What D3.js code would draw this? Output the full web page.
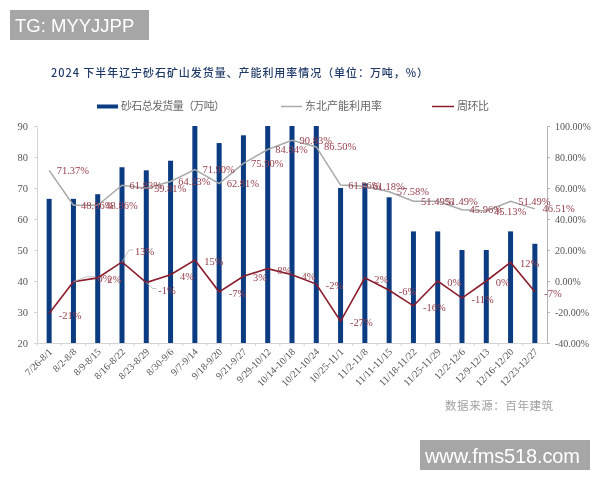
<!DOCTYPE html>
<html><head><meta charset="utf-8">
<script src="https://cdn.jsdelivr.net/npm/d3@7/dist/d3.min.js"></script>
<style>html,body{margin:0;padding:0;background:#fff}svg{display:block;filter:blur(.35px)}</style>
</head><body><svg id="c" width="600" height="480"></svg>
<script>
const categories=["7/26-8/1","8/2-8/8","8/9-8/15","8/16-8/22","8/23-8/29","8/30-9/6","9/7-9/14","9/18-9/20","9/21-9/27","9/29-10/12","10/14-10/18","10/21-10/24","10/25-11/1","11/2-11/8","11/11-11/15","11/18-11/22","11/25-11/29","12/2-12/6","12/9-12/13","12/16-12/20","12/23-12/27"];
const shipment=[66.5,66.5,68,76.7,75.7,78.8,90,84.5,87,90,90,90,70,71.5,67,56,56,50,50,56,52];
const utilization=[71.37,48.86,48.86,61.83,59.81,64.23,71.9,62.81,75.9,84.84,90.83,86.5,61.86,61.18,57.58,51.49,51.49,45.96,45.13,51.49,46.51];
const wow=[-21,0,2,13,-1,4,15,-7,3,8,4,-2,-27,2,-6,-16,0,-11,0,12,-7];
const wowDrawn=[-21,-0.5,2,12.3,-1,4,13.5,-7,3,8,4,-2,-26,2,-6,-16,0,-11,0,12,-7];
const leftTicks=[20,30,40,50,60,70,80,90];
const rightTicks=[-40,-20,0,20,40,60,80,100];
const seriesNames=["砂石总发货量（万吨）","东北产能利用率","周环比"];
const titleText="2024 下半年辽宁砂石矿山发货量、产能利用率情况（单位：万吨，%）";
const sourceText="数据来源：百年建筑";
const cjk='"Noto Sans CJK SC",sans-serif', serif='"Liberation Serif",serif', sans='"Liberation Sans",sans-serif';
const svg=d3.select("#c");
const L=37,R=547,T=126,B=343;
const x=d3.scaleBand().domain(categories).range([L,R]);
const yL=d3.scaleLinear().domain([20,90]).range([B,T]);
const yR=d3.scaleLinear().domain([-40,100]).range([B,T]);
const cx=c=>x(c)+x.bandwidth()/2;
const navy="#0b3b80",grey="#a9a9a9",red="#8a1c2c",lab="#96404c",tick="#555";

svg.append("rect").attr("x",10).attr("y",10).attr("width",139).attr("height",30).attr("fill","#a6a6a6");
svg.append("text").attr("x",15).attr("y",32).attr("font-family",sans).attr("font-size",18.5).attr("fill","#fff").text("TG: MYYJJPP");
svg.append("text").attr("x",51).attr("y",77).attr("font-family",cjk).attr("font-size",11).attr("font-weight",500).attr("fill","#1f3a68").attr("textLength",377).text(titleText);

// legend
const lg=svg.append("g").attr("font-family",cjk).attr("font-size",11).attr("fill","#666");
lg.append("rect").attr("x",97).attr("y",104.5).attr("width",21).attr("height",4).attr("fill",navy);
lg.append("text").attr("x",121).attr("y",110).attr("textLength",104).text(seriesNames[0]);
lg.append("line").attr("x1",281).attr("x2",302).attr("y1",106.5).attr("y2",106.5).attr("stroke",grey).attr("stroke-width",1.5);
lg.append("text").attr("x",305).attr("y",110).attr("textLength",77).text(seriesNames[1]);
lg.append("line").attr("x1",432).attr("x2",454).attr("y1",106.5).attr("y2",106.5).attr("stroke",red).attr("stroke-width",1.5);
lg.append("text").attr("x",457).attr("y",110).attr("textLength",32).text(seriesNames[2]);

// axes
function style(g,col){g.selectAll("path,line").attr("stroke",col).attr("stroke-width",1);
 g.selectAll("text").attr("font-family",serif).attr("font-size",10.5).attr("fill",tick);}
const gl=svg.append("g").attr("transform",`translate(${L},0)`).call(d3.axisLeft(yL).tickValues(leftTicks).tickSize(3).tickSizeOuter(0).tickPadding(6));
style(gl,"#d4d4d4");
const gr=svg.append("g").attr("transform",`translate(${R},0)`).call(d3.axisRight(yR).tickValues(rightTicks).tickFormat(d=>d.toFixed(2)+"%").tickSize(3).tickSizeOuter(0).tickPadding(5));
style(gr,"#b4b4b4");
gr.selectAll("text").attr("font-size",10);

// bars
svg.append("g").selectAll("rect").data(categories).join("rect")
 .attr("x",c=>cx(c)-2.5).attr("width",5)
 .attr("y",(c,i)=>yL(shipment[i])).attr("height",(c,i)=>B-yL(shipment[i])).attr("fill",navy);

// bottom axis: ticks on category boundaries
const gb=svg.append("g").attr("transform",`translate(0,${B})`).call(d3.axisBottom(x).tickSize(0).tickPadding(7));
gb.select("path").attr("stroke","#d4d4d4");
gb.selectAll("text").attr("font-family",serif).attr("font-size",10).attr("fill",tick)
 .attr("text-anchor","end").attr("transform","rotate(-45)").attr("dx","-4px").attr("dy","2.3px");
svg.append("g").selectAll("line").data(categories).join("line")
 .attr("x1",c=>x(c)).attr("x2",c=>x(c)).attr("y1",B).attr("y2",B+3).attr("stroke","#d4d4d4");

// lines
const lineG=d3.line().x((d,i)=>cx(categories[i])).y(d=>yR(d));
svg.append("path").attr("d",lineG(utilization)).attr("fill","none").attr("stroke",grey).attr("stroke-width",1.5);
svg.append("path").attr("d",lineG(wowDrawn)).attr("fill","none").attr("stroke",red).attr("stroke-width",1.6);

// utilization labels
svg.append("g").attr("font-family",serif).attr("font-size",10.5).attr("fill",lab).attr("text-anchor","middle")
 .selectAll("text").data(utilization).join("text")
 .attr("x",(d,i)=>cx(categories[i])+x.bandwidth()-0.5).attr("y",d=>yR(d)+3.5)
 .text(d=>d.toFixed(2)+"%");

// week-on-week labels, three of them moved off the line with leaders
const moved={1:[24,-5],3:[13,-12],4:[12,6]};
svg.append("g").attr("fill","none").attr("stroke","#b5b5b5").attr("stroke-width",.8)
 .selectAll("path").data(Object.keys(moved)).join("path")
 .attr("d",k=>{const px=cx(categories[k]),py=yR(wowDrawn[k]),m=moved[k];
   return d3.line()([[px,py],[px+m[0]*.55,py+m[1]],[px+m[0]-2,py+m[1]]]);});
svg.append("g").attr("font-family",serif).attr("font-size",10.5).attr("fill",lab)
 .selectAll("text").data(wow).join("text")
 .attr("x",(d,i)=>cx(categories[i])+(moved[i]?moved[i][0]:9.5))
 .attr("y",(d,i)=>yR(wowDrawn[i])+(moved[i]?moved[i][1]:0)+5)
 .text(d=>d+"%");

svg.append("text").attr("x",445).attr("y",410).attr("font-family",cjk).attr("font-size",11.5).attr("fill","#a0a0a0").attr("textLength",108).text(sourceText);
svg.append("rect").attr("x",420).attr("y",440).attr("width",170).attr("height",30).attr("fill","#a6a6a6");
svg.append("text").attr("x",425).attr("y",463).attr("font-family",sans).attr("font-size",20).attr("fill","#fff").attr("textLength",155).text("www.fms518.com");
</script></body></html>
